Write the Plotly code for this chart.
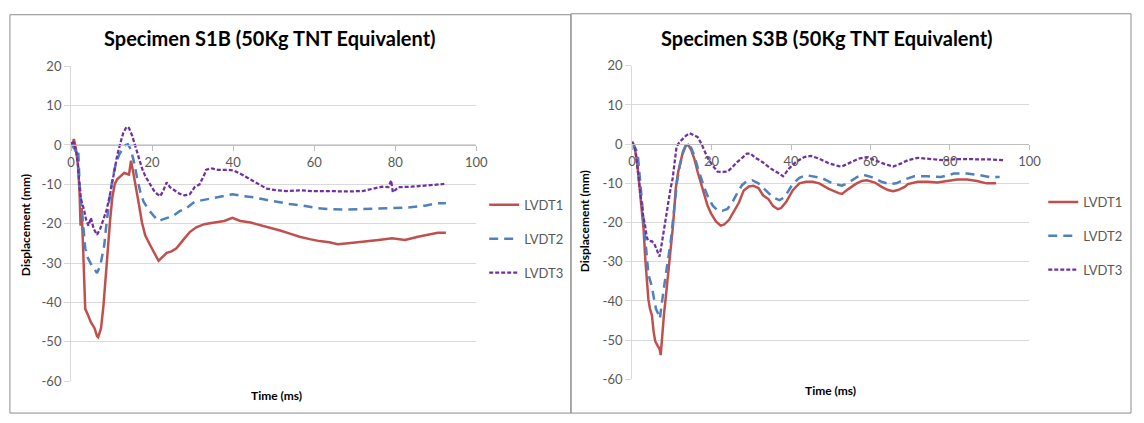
import plotly.graph_objects as go

# ---------------- data ----------------
tick_vals_x = [0, 20, 40, 60, 80, 100]
tick_vals_y = [20, 10, 0, -10, -20, -30, -40, -50, -60]
series_names = ["LVDT1", "LVDT2", "LVDT3"]
titles = ["Specimen S1B (50Kg TNT Equivalent)", "Specimen S3B (50Kg TNT Equivalent)"]

# Specimen S1B
s1b_t1 = [0, 0.3, 0.7, 1.2, 1.7, 2.1, 2.35, 2.6, 2.9, 3.2, 3.5, 4.1, 4.9, 5.8, 6.4, 6.7, 7.4, 8.0, 8.6, 9.0,
          9.65, 10.2, 10.8, 11.4, 12.2, 13.1, 14.3, 14.8, 15.3, 15.9, 16.7, 17.5, 18.3, 19.5, 20.8, 21.6, 22.4,
          23.6, 24.8, 26.0, 27.7, 29.3, 30.9, 32.9, 35.4, 37.8, 39.8, 41.8, 44.3, 46.7, 49.1, 51.6, 54.0, 56.4,
          58.9, 61.3, 63.7, 65.8, 67.8, 71.9, 75.9, 79.2, 82.4, 85.6, 88.1, 90.5, 92.5]
s1b_d1 = [0.6, 0.0, 1.5, -1.0, -5.0, -12, -20.5, -16, -24, -34, -41.6, -43, -45, -46.5, -48.5, -48.8, -46.5,
          -40.8, -32.7, -25.4, -18.9, -13.2, -9.9, -8.7, -7.9, -7.1, -7.5, -4.0, -6.7, -9.9, -14.8, -19.7, -22.9,
          -25.4, -27.8, -29.4, -28.6, -27.4, -27.0, -26.2, -24.1, -22.1, -20.9, -20.1, -19.7, -19.3, -18.5, -19.3,
          -19.7, -20.3, -20.9, -21.7, -22.5, -23.3, -23.9, -24.4, -24.7, -25.2, -25.0, -24.6, -24.1, -23.7, -24.1,
          -23.3, -22.8, -22.3, -22.3]

s1b_t2 = [0, 0.9, 1.5, 1.8, 2.1, 2.5, 2.9, 3.2, 3.5, 4.1, 4.9, 5.8, 6.4, 7.2, 7.8, 8.2, 8.6, 9.0, 9.65, 10.2,
          11.0, 11.8, 12.7, 13.5, 14.0, 14.7, 15.5, 16.3, 17.1, 17.9, 19.1, 20.4, 21.6, 22.6, 24.0, 25.2, 26.8,
          28.5, 30.5, 33.7, 37.0, 39.8, 42.7, 45.1, 47.5, 50.8, 54.0, 57.3, 60.5, 63.7, 67.0, 71.0, 75.1, 79.2,
          83.2, 87.3, 90.5, 92.5]
s1b_d2 = [0.2, -1.0, -2.6, -2.0, -9.9, -14.8, -18.9, -23.7, -26.2, -28.6, -30.2, -31.5, -32.5, -30.7, -27.8,
          -25.4, -21.3, -17.2, -12.4, -8.7, -5.0, -2.6, -1.0, 0.0, 0.2, -1.0, -4.2, -8.3, -12.0, -14.4, -16.4,
          -18.0, -19.3, -18.9, -18.5, -18.0, -16.8, -16.0, -14.4, -13.8, -13.2, -12.5, -13.0, -13.3, -13.8, -14.4,
          -15.0, -15.4, -16.0, -16.3, -16.4, -16.3, -16.1, -16.0, -15.9, -15.4, -14.8, -14.8]

s1b_t3 = [0, 0.7, 1.3, 1.7, 2.1, 2.5, 3.2, 3.7, 4.3, 4.9, 5.6, 6.4, 7.2, 8.0, 8.8, 9.65, 10.2, 10.8, 11.4, 12.2,
          12.9, 13.7, 14.3, 15.1, 15.9, 16.7, 17.5, 18.3, 19.4, 20.4, 21.2, 22.0, 22.8, 23.6, 24.4, 25.6, 26.8,
          28.0, 29.3, 30.5, 31.7, 32.9, 33.3, 34.5, 36.2, 38.6, 40.2, 41.8, 43.5, 45.1, 46.7, 48.3, 50.8, 53.2,
          56.4, 59.7, 63.7, 67.8, 71.9, 74.3, 76.7, 78.3, 79.0, 79.4, 80.8, 84.0, 87.3, 90.5, 92.1]
s1b_d3 = [0.5, 0.6, -1.8, -5.0, -10.7, -14.0, -16.4, -18.9, -20.5, -18.5, -21.3, -22.8, -21.3, -18.9, -16.4,
          -12.4, -9.1, -5.9, -2.6, 0.6, 3.1, 4.6, 4.3, 2.3, -0.6, -3.4, -5.9, -7.9, -9.9, -11.5, -12.4, -13.0,
          -11.5, -9.5, -10.7, -11.5, -12.4, -12.8, -12.5, -10.7, -10.0, -7.5, -6.3, -5.9, -6.3, -6.3, -6.5, -7.3,
          -8.3, -9.3, -10.3, -11.1, -11.5, -11.7, -11.5, -11.7, -11.7, -11.8, -11.7, -11.1, -10.6, -10.7, -9.0,
          -12.0, -10.7, -10.6, -10.3, -9.9, -9.9]

# Specimen S3B
s3b_t1 = [0, 0.6, 1.2, 1.9, 2.5, 2.9, 3.3, 3.7, 4.1, 4.5, 5.0, 5.4, 5.8, 6.4, 6.9, 7.2, 7.5, 8.0, 8.5, 9.1, 9.7,
          10.2, 10.6, 11.0, 11.6, 12.2, 12.8, 13.4, 14.1, 14.9, 15.7, 16.5, 17.4, 18.2, 19.0, 19.9, 21.1, 22.3,
          23.2, 24.4, 25.6, 26.9, 28.1, 29.4, 30.5, 31.8, 33.0, 34.3, 35.5, 36.7, 37.5, 38.8, 40.4, 42.1, 43.8,
          45.4, 47.1, 49.5, 52.0, 52.8, 54.5, 56.2, 57.8, 59.1, 61.1, 62.8, 64.4, 65.7, 66.9, 68.6, 69.4, 71.9,
          74.4, 76.8, 79.3, 81.8, 84.3, 86.8, 89.2, 91.6]
s3b_d1 = [0.6, -0.6, -3.9, -11.2, -17.7, -21.8, -29.0, -35.6, -39.6, -42.0, -43.7, -47.7, -50.2, -51.4, -52.2,
          -53.8, -49.4, -43.7, -38.8, -33.1, -27.4, -21.8, -16.9, -11.2, -7.1, -4.3, -1.9, -0.5, -0.2, -1.5, -3.9,
          -7.1, -10.4, -13.2, -15.7, -17.7, -19.7, -20.8, -20.5, -19.3, -17.3, -14.9, -11.8, -10.8, -10.6, -11.2,
          -13.1, -14.0, -15.8, -16.6, -16.3, -14.7, -11.8, -10.0, -9.6, -9.6, -10.0, -11.4, -12.5, -12.7, -11.4,
          -10.2, -9.4, -9.2, -9.8, -10.9, -11.7, -12.0, -11.7, -10.9, -10.2, -9.6, -9.6, -9.8, -9.4, -9.0, -9.0,
          -9.4, -10.0, -10.0]

s3b_t2 = [0, 0.8, 1.4, 2.1, 2.7, 3.1, 3.6, 4.1, 4.5, 5.0, 5.4, 6.0, 6.6, 7.0, 7.4, 7.9, 8.5, 9.1, 9.7, 10.3,
          10.8, 11.3, 12.0, 12.8, 13.6, 14.1, 14.9, 15.7, 16.5, 17.4, 18.2, 19.0, 20.3, 21.5, 22.7, 24.0, 25.2,
          26.5, 27.7, 28.9, 30.2, 31.8, 33.0, 35.5, 37.1, 38.4, 40.4, 42.1, 43.8, 45.8, 47.9, 50.4, 52.8, 54.5,
          56.6, 58.2, 60.3, 62.8, 64.8, 66.5, 68.6, 71.0, 74.4, 77.7, 81.0, 84.3, 87.6, 90.1, 92.5]
s3b_d2 = [0.2, -1.0, -2.3, -10.4, -16.9, -22.6, -29.1, -33.1, -34.7, -36.4, -38.8, -42.0, -43.3, -44.5, -41.2,
          -38.0, -33.1, -29.1, -25.0, -19.3, -14.4, -9.6, -5.5, -2.3, -0.2, 0.0, -1.0, -3.1, -5.9, -8.8, -11.2,
          -13.2, -15.7, -16.9, -17.0, -16.5, -14.9, -12.4, -10.4, -9.4, -9.2, -10.0, -11.2, -13.6, -14.3, -13.5,
          -10.2, -8.6, -7.9, -8.2, -8.7, -10.0, -10.6, -9.8, -8.4, -7.8, -8.4, -9.6, -10.2, -10.0, -9.0, -8.2,
          -8.2, -8.4, -7.5, -7.5, -7.9, -8.4, -8.4]

s3b_t3 = [0, 0.6, 1.1, 1.7, 2.2, 2.7, 3.3, 3.7, 4.1, 5.0, 5.6, 6.2, 6.9, 7.4, 8.0, 8.5, 9.1, 9.7, 10.2, 10.8,
          11.2, 12.0, 12.8, 13.6, 14.5, 15.5, 16.5, 17.4, 18.2, 19.0, 20.3, 21.5, 22.7, 24.0, 25.2, 26.5, 27.7,
          28.9, 29.8, 31.0, 32.2, 34.7, 36.7, 38.0, 39.6, 41.3, 43.3, 45.0, 47.1, 49.5, 52.0, 52.8, 54.5, 57.0,
          59.1, 61.1, 63.6, 65.7, 67.3, 69.4, 71.9, 75.2, 78.5, 81.8, 85.9, 90.1, 93.4]
s3b_d3 = [0.6, -0.6, -3.9, -8.8, -13.6, -17.7, -20.9, -23.8, -24.6, -24.8, -25.4, -27.0, -28.7, -25.8, -21.8,
          -18.5, -14.4, -11.2, -8.8, -3.1, -0.6, 0.6, 1.4, 2.2, 2.8, 2.4, 1.8, 0.2, -1.9, -3.5, -5.5, -7.0, -7.1,
          -7.0, -5.9, -4.5, -3.5, -2.4, -2.4, -3.5, -4.1, -6.1, -7.3, -8.2, -6.1, -4.5, -3.3, -3.0, -3.7, -4.9,
          -5.6, -5.7, -4.9, -3.7, -3.3, -4.1, -5.1, -5.7, -5.1, -4.1, -3.5, -3.8, -4.1, -3.8, -3.8, -3.9, -4.1]

# ---------------- styling ----------------
W, H = 1144, 423
colors = ["#C0504D", "#4F81BD", "#7030A0"]
dashes = ["solid", "9px,6px", "4px,2px"]
widths = [2.5, 2.5, 2.25]
FONT = "Lato, 'Open Sans', sans-serif"
TXT = "#595959"
GRID = "#D9D9D9"
XR = [0, 100]
YR = [-60, 20]

def px2fx(px):
    return px / W

def py2fy(py):
    return 1 - py / H

# plot-area pixel boxes (left, right, top, bottom)
boxes = [(68, 479, 60.5, 388), (637, 1040, 60, 386)]

fig = go.Figure()

data_sets = [
    [(s1b_t1, s1b_d1), (s1b_t2, s1b_d2), (s1b_t3, s1b_d3)],
    [(s3b_t1, s3b_d1), (s3b_t2, s3b_d2), (s3b_t3, s3b_d3)],
]

for ci, sets in enumerate(data_sets):
    xa = "x" if ci == 0 else "x2"
    ya = "y" if ci == 0 else "y2"
    lg = "legend" if ci == 0 else "legend2"
    for si, (t, d) in enumerate(sets):
        fig.add_trace(go.Scatter(
            x=t, y=d, mode="lines", name=series_names[si],
            line=dict(color=colors[si], width=widths[si], dash=dashes[si]),
            xaxis=xa, yaxis=ya, legend=lg, legendgroup=f"g{ci}{si}",
            hoverinfo="skip"))

layout = dict(
    width=W, height=H,
    margin=dict(l=0, r=0, t=0, b=0),
    paper_bgcolor="white", plot_bgcolor="white",
    font=dict(family=FONT, size=12, color=TXT),
    shapes=[], annotations=[],
)

for ci, (l, r, t, b) in enumerate(boxes):
    sfx = "" if ci == 0 else "2"
    dom_x = [px2fx(l), px2fx(r)]
    dom_y = [py2fy(b), py2fy(t)]
    pos0 = dom_y[0] + (0 - YR[0]) / (YR[1] - YR[0]) * (dom_y[1] - dom_y[0])
    layout["xaxis" + sfx] = dict(
        domain=dom_x, range=XR, anchor="free", position=pos0,
        tickvals=tick_vals_x, ticktext=[str(v) for v in tick_vals_x],
        ticks="outside", ticklen=5, tickcolor="#BFBFBF",
        showline=True, linecolor="#BFBFBF", linewidth=1,
        showgrid=False, zeroline=False,
        tickfont=dict(family=FONT, size=13, color=TXT),
    )
    layout["yaxis" + sfx] = dict(
        domain=dom_y, range=YR, anchor="x" + sfx,
        tickvals=tick_vals_y, ticktext=[str(v) for v in tick_vals_y],
        ticks="outside", ticklen=6, tickcolor=GRID,
        showline=True, linecolor=GRID, linewidth=1,
        showgrid=True, gridcolor=GRID, gridwidth=1, zeroline=False,
        tickfont=dict(family=FONT, size=13, color=TXT),
    )

# outer chart frames
frames = [(6, 575, 7, 421), (575, 1143, 6, 421)]
for (x0, x1, y0, y1) in frames:
    layout["shapes"].append(dict(type="rect", xref="paper", yref="paper",
                                 x0=px2fx(x0), x1=px2fx(x1), y0=py2fy(y1), y1=py2fy(y0),
                                 line=dict(color="#8C8C8C", width=1), fillcolor="rgba(0,0,0,0)"))

title_pos = [(270, 31), (835, 31)]
ytitle_pos = [(22, 226), (589, 222)]
xtitle_pos = [(276, 403), (838, 398)]
for ci in range(2):
    layout["annotations"].append(dict(
        text=f"<b>{titles[ci]}</b>", xref="paper", yref="paper",
        x=px2fx(title_pos[ci][0]), y=py2fy(title_pos[ci][1]),
        xanchor="center", yanchor="middle", showarrow=False,
        font=dict(family=FONT, size=20, color="#000000")))
    layout["annotations"].append(dict(
        text="<b>Displacement (mm)</b>", xref="paper", yref="paper",
        x=px2fx(ytitle_pos[ci][0]), y=py2fy(ytitle_pos[ci][1]), textangle=-90,
        xanchor="center", yanchor="middle", showarrow=False,
        font=dict(family=FONT, size=12, color="#000000")))
    layout["annotations"].append(dict(
        text="<b>Time (ms)</b>", xref="paper", yref="paper",
        x=px2fx(xtitle_pos[ci][0]), y=py2fy(xtitle_pos[ci][1]),
        xanchor="center", yanchor="middle", showarrow=False,
        font=dict(family=FONT, size=12, color="#000000")))

legend_pos = [(487, 189), (1054, 186)]
for ci in range(2):
    key = "legend" if ci == 0 else "legend2"
    layout[key] = dict(
        x=px2fx(legend_pos[ci][0]), y=py2fy(legend_pos[ci][1]),
        xanchor="left", yanchor="top", bgcolor="rgba(0,0,0,0)",
        font=dict(family=FONT, size=13, color=TXT),
        tracegroupgap=14, itemwidth=30)

fig.update_layout(**layout)
fig.write_html("out.html")
